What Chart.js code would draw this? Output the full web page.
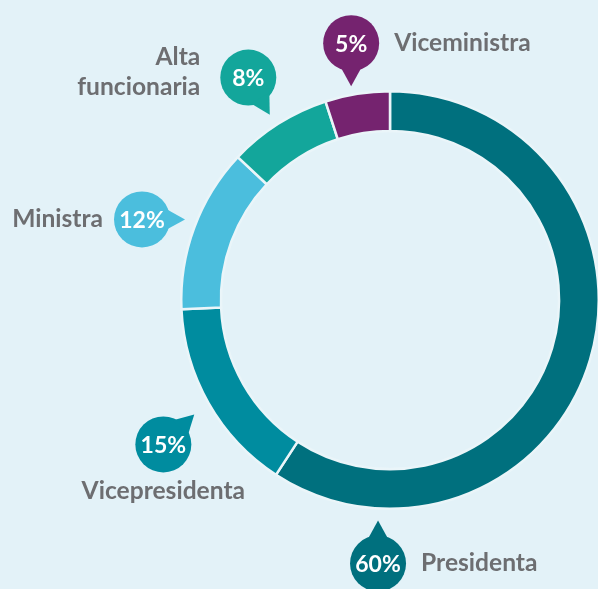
<!DOCTYPE html>
<html><head><meta charset="utf-8">
<script src="https://cdn.jsdelivr.net/npm/chart.js@4"></script>
<style>
html,body{margin:0;padding:0;background:#e3f2f8;overflow:hidden;width:598px;height:589px;}
canvas{display:block;}
</style></head>
<body>
<canvas id="c" width="620" height="589"></canvas>
<script>
const categories = ['Presidenta', 'Vicepresidenta', 'Ministra', 'Alta funcionaria', 'Viceministra'];
const values = [59.2, 15.1, 12.7, 8.0, 5.0];
const percentLabels = ['60%', '15%', '12%', '8%', '5%'];
const colors = ['#00707e', '#008c9f', '#4bbedd', '#13a69b', '#75236f'];

// callout layout (angle of bubble around the ring, extra distance, tail direction, label side)
const calloutLayout = [
  {angle: 182.6, dist: 55, tail: 0,   side: 'right'},
  {angle: 237.5, dist: 60, tail: 46,  side: 'below'},
  {angle: 288,   dist: 52, tail: 90,  side: 'left'},
  {angle: 327.5, dist: 55, tail: 150, side: 'left2'},
  {angle: 351.4, dist: 51, tail: 180, side: 'right'}
];

const calloutPlugin = {
  id: 'callouts',
  afterDatasetsDraw(chart) {
    const ctx = chart.ctx;
    const arcs = chart.getDatasetMeta(0).data;
    arcs.forEach((arc, i) => {
      const L = calloutLayout[i];
      const d = arc.outerRadius + L.dist;
      const a = L.angle * Math.PI / 180;
      const cx = arc.x + d * Math.sin(a);
      const cy = arc.y - d * Math.cos(a);
      const r = 28;
      const t = L.tail * Math.PI / 180;
      const tipD = 43;
      const tipX = cx + tipD * Math.sin(t), tipY = cy - tipD * Math.cos(t);
      const s = 24 * Math.PI / 180;
      ctx.save();
      ctx.fillStyle = colors[i];
      ctx.beginPath();
      ctx.arc(cx, cy, r, 0, Math.PI * 2);
      ctx.fill();
      ctx.beginPath();
      ctx.moveTo(cx + (r - 2) * Math.sin(t - s), cy - (r - 2) * Math.cos(t - s));
      ctx.lineTo(tipX, tipY);
      ctx.lineTo(cx + (r - 2) * Math.sin(t + s), cy - (r - 2) * Math.cos(t + s));
      ctx.closePath();
      ctx.fill();
      ctx.fillStyle = '#ffffff';
      ctx.font = 'bold 23px Lato';
      ctx.textAlign = 'center';
      ctx.textBaseline = 'middle';
      ctx.fillText(percentLabels[i], cx, cy + 1);
      ctx.fillStyle = '#6d6e71';
      ctx.font = 'bold 24.6px Lato';
      if (L.side === 'right') {
        ctx.textAlign = 'left';
        ctx.fillText(categories[i], cx + r + 15, cy);
      } else if (L.side === 'left') {
        ctx.textAlign = 'right';
        ctx.fillText(categories[i], cx - r - 11, cy);
      } else if (L.side === 'below') {
        ctx.textAlign = 'center';
        ctx.fillText(categories[i], cx, cy + 47);
      } else {
        const parts = categories[i].split(' ');
        ctx.textAlign = 'right';
        ctx.fillText(parts[0], cx - r - 20, cy - 20);
        ctx.fillText(parts[1], cx - r - 20, cy + 10);
      }
      ctx.restore();
    });
  }
};

new Chart(document.getElementById('c'), {
  type: 'doughnut',
  data: {
    labels: categories,
    datasets: [{
      data: values,
      backgroundColor: colors,
      borderColor: '#eaf5f9',
      borderWidth: 2.5
    }]
  },
  options: {
    responsive: false,
    animation: false,
    cutout: '81%',
    layout: {padding: {left: 180, right: 20, top: 90, bottom: 79}},
    plugins: {legend: {display: false}, tooltip: {enabled: false}}
  },
  plugins: [calloutPlugin]
});
</script>
</body></html>
